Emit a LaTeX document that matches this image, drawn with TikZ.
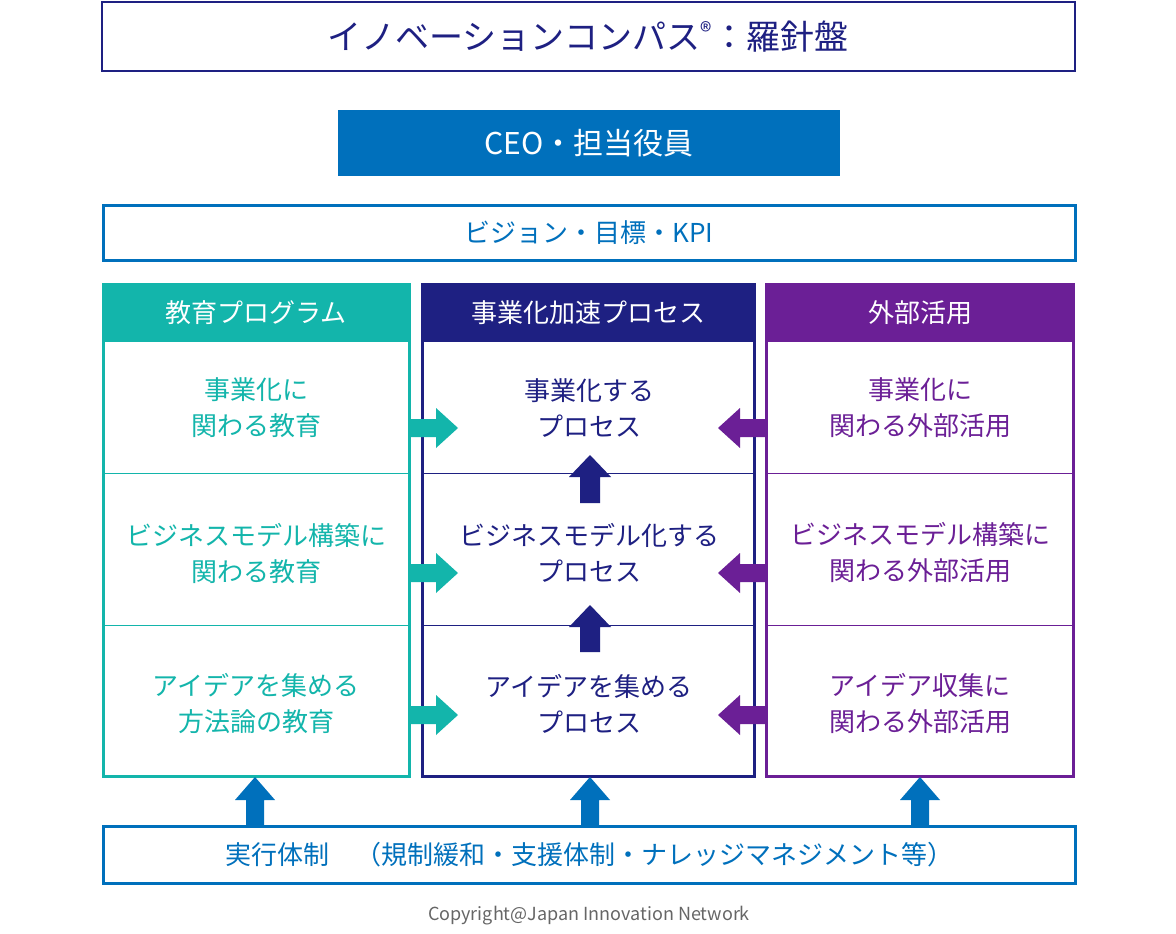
\documentclass[tikz,border=0pt]{standalone}
\usepackage{fontspec}
\newfontfamily\jp{Noto Sans CJK JP}
\definecolor{teal1}{HTML}{13B5AB}
\definecolor{navy1}{HTML}{1E2082}
\definecolor{purp1}{HTML}{6B1F96}
\definecolor{blue1}{HTML}{0070BC}
\begin{document}
\begin{tikzpicture}[x=1pt,y=-1pt,
  txt/.style={font=\jp\fontsize{26}{36}\selectfont,align=center},
  rarr/.style={fill=#1},
]
\useasboundingbox[fill=white] (0,0) rectangle (1176,934);
% title
\draw[navy1,line width=1.5] (102,2) rectangle (1075,71);
\node[txt,navy1,font=\jp\fontsize{34}{40}\selectfont] (title) at (588,37) {イノベーションコンパス\textsuperscript{®}：羅針盤};
% CEO
\fill[blue1] (338,110) rectangle (840,176);
\node[txt,white,font=\jp\fontsize{30}{36}\selectfont] (ceo) at (589,143) {CEO・担当役員};
% vision
\draw[blue1,line width=3] (103,205) rectangle (1075,260);
\node[txt,blue1] (vis) at (589,233) {ビジョン・目標・KPI};
% columns
\foreach \xa/\xb/\c in {102/411/teal1,421/756/navy1,765/1075/purp1}{
  \fill[\c] (\xa,283) rectangle (\xb,342);
  \draw[\c,line width=3] (\xa+1.5,284) rectangle (\xb-1.5,776);
  \draw[\c,line width=1] (\xa+1.5,473) -- (\xb-1.5,473);
  \draw[\c,line width=1] (\xa+1.5,625) -- (\xb-1.5,625);
}
\node[txt,white] (h1) at (256,313) {教育プログラム};
\node[txt,white] (h2) at (588,313) {事業化加速プロセス};
\node[txt,white] (h3) at (920,313) {外部活用};
\node[txt,teal1] (a1) at (256,408) {事業化に\\関わる教育};
\node[txt,teal1] (a2) at (256,553) {ビジネスモデル構築に\\関わる教育};
\node[txt,teal1] (a3) at (256,704) {アイデアを集める\\方法論の教育};
\node[txt,navy1] (b1) at (589,408) {事業化する\\プロセス};
\node[txt,navy1] (b2) at (589,553) {ビジネスモデル化する\\プロセス};
\node[txt,navy1] (b3) at (589,704) {アイデアを集める\\プロセス};
\node[txt,purp1] (c1) at (920,408) {事業化に\\関わる外部活用};
\node[txt,purp1] (c2) at (920,553) {ビジネスモデル構築に\\関わる外部活用};
\node[txt,purp1] (c3) at (920,704) {アイデア収集に\\関わる外部活用};
% horizontal block arrows
\foreach \y in {428,573,715}{
  \fill[teal1] (411,\y-9) -- (436,\y-9) -- (436,\y-20) -- (458,\y) -- (436,\y+20) -- (436,\y+9) -- (411,\y+9) -- cycle;
  \fill[purp1] (765,\y-9) -- (740,\y-9) -- (740,\y-20) -- (718,\y) -- (740,\y+20) -- (740,\y+9) -- (765,\y+9) -- cycle;
}
% vertical navy arrows
\foreach \yb/\yt in {503/455,652/605}{
  \fill[navy1] (580,\yb) -- (580,\yt+22) -- (569,\yt+22) -- (590,\yt) -- (611,\yt+22) -- (600,\yt+22) -- (600,\yb) -- cycle;
}
% bottom arrows
\foreach \x in {255,590,920}{
  \fill[blue1] (\x-9,826) -- (\x-9,800) -- (\x-20,800) -- (\x,777) -- (\x+20,800) -- (\x+9,800) -- (\x+9,826) -- cycle;
}
\draw[blue1,line width=3] (103,826) rectangle (1075,883);
\node[txt,blue1] (exec) at (589,855) {実行体制　（規制緩和・支援体制・ナレッジマネジメント等）};
\node[font=\jp\fontsize{18}{22}\selectfont,gray!80!black] (copy) at (589,916) {Copyright@Japan Innovation Network};
\end{tikzpicture}
\end{document}
